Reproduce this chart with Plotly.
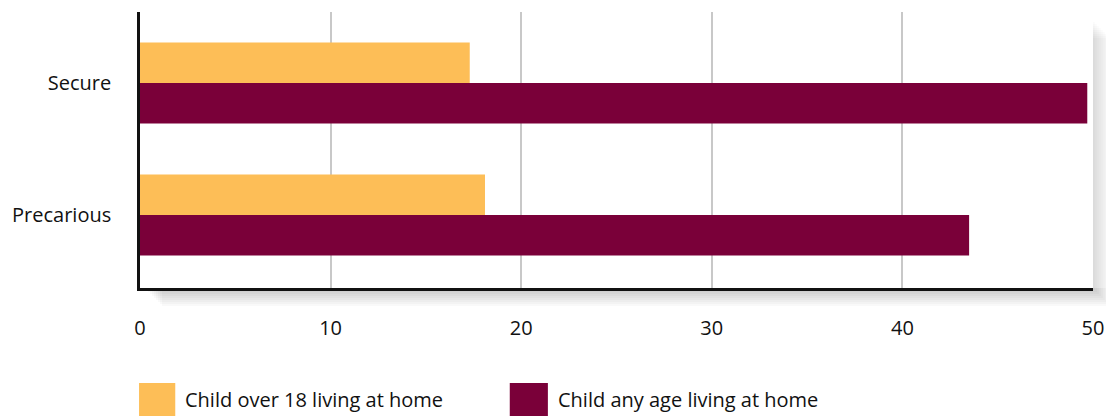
import plotly.graph_objects as go

categories = ["Secure", "Precarious"]
over18 = [17.3, 18.1]
any_age = [49.7, 43.5]
series_names = ["Child over 18 living at home", "Child any age living at home"]
colors = ["#FDBE57", "#7A0039"]
x_ticks = [0, 10, 20, 30, 40, 50]

FONT = "Open Sans"
FS = 20

fig = go.Figure()
fig.add_trace(go.Bar(y=categories, x=over18, orientation="h", name=series_names[0],
                     marker=dict(color=colors[0], line=dict(width=0))))
fig.add_trace(go.Bar(y=categories, x=any_age, orientation="h", name=series_names[1],
                     marker=dict(color=colors[1], line=dict(width=0))))

PW, PH = 956, 276  # plot area in px
shapes = []
# soft drop shadow below x axis and right of plot
n_layers = 9
for i in range(n_layers):
    off = (i + 1) * 2
    a = 0.022
    shapes.append(dict(type="rect", xref="paper", yref="paper",
                       x0=(6 + 2 * i) / PW, x1=1.0 + off / PW, y0=-off / PH, y1=0,
                       fillcolor=f"rgba(0,0,0,{a})", line=dict(width=0), layer="below"))
    shapes.append(dict(type="rect", xref="paper", yref="paper",
                       x0=1.0, x1=1.0 + off / PW, y0=0, y1=1 - (10 + 2 * i) / PH,
                       fillcolor=f"rgba(0,0,0,{a * 0.8})", line=dict(width=0), layer="below"))

# custom legend squares
shapes.append(dict(type="rect", xref="paper", yref="paper", x0=-0.001, x1=0.037,
                   y0=-0.464, y1=-0.344, fillcolor=colors[0], line=dict(width=0)))
shapes.append(dict(type="rect", xref="paper", yref="paper", x0=0.388, x1=0.428,
                   y0=-0.464, y1=-0.344, fillcolor=colors[1], line=dict(width=0)))

annotations = [
    dict(text=series_names[0], xref="paper", yref="paper", x=0.045, y=-0.404,
         xanchor="left", yanchor="middle", showarrow=False,
         font=dict(family=FONT, size=FS, color="#111")),
    dict(text=series_names[1], xref="paper", yref="paper", x=0.437, y=-0.404,
         xanchor="left", yanchor="middle", showarrow=False,
         font=dict(family=FONT, size=FS, color="#111")),
]

# page body has an 8px margin, so the figure is sized/offset to compensate
fig.update_layout(
    width=1106, height=409,
    margin=dict(l=129, r=21, t=4, b=129),
    paper_bgcolor="white", plot_bgcolor="white",
    barmode="group", bargap=0.386, bargroupgap=0,
    showlegend=False,
    font=dict(family=FONT, size=FS, color="#111"),
    shapes=shapes, annotations=annotations,
    xaxis=dict(range=[0, 50], tickvals=x_ticks, showgrid=True, gridcolor="#c8c8c8",
               gridwidth=2, zeroline=False, showline=True, linecolor="#111", linewidth=2.5,
               ticks="", ticklabelstandoff=20, tickfont=dict(size=FS)),
    yaxis=dict(range=[1.553, -0.538], showgrid=False, zeroline=False, showline=True,
               linecolor="#111", linewidth=2.5, ticks="", ticklabelstandoff=22,
               tickfont=dict(size=FS)),
)

fig.write_html("out.html")
